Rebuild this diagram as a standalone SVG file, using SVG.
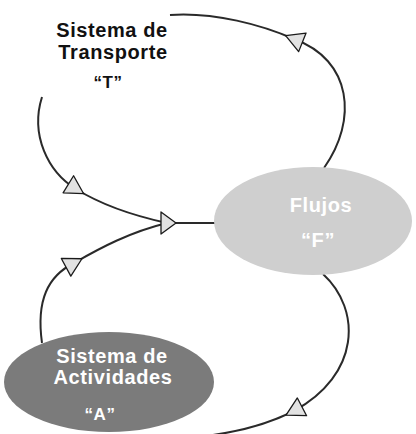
<svg xmlns="http://www.w3.org/2000/svg" width="416" height="434" viewBox="0 0 416 434">
<style>
.bg{fill:#ffffff}
.lbl{font-family:"Liberation Sans",Arial,sans-serif;font-weight:bold;font-size:20px;letter-spacing:0.6px;text-anchor:middle}
.dark{fill:#111111}
.light{fill:#ffffff}
.conn{fill:none;stroke:#2a2a2a;stroke-width:2}
</style>
<defs>
<marker id="tri" markerUnits="userSpaceOnUse" viewBox="-11 -12 22 24" refX="0" refY="0" markerWidth="22" markerHeight="24" orient="auto">
<path d="M9,0 L-9,-10 L-9,10 Z" fill="#e2e2e2" stroke="#1a1a1a" stroke-width="1.3" stroke-linejoin="round"/>
</marker>
<marker id="triBig" markerUnits="userSpaceOnUse" viewBox="-2 -13 18 26" refX="0" refY="0" markerWidth="18" markerHeight="26" orient="auto">
<path d="M14,0 L-1,-11 L-1,11 Z" fill="#e2e2e2" stroke="#1a1a1a" stroke-width="1.3" stroke-linejoin="round"/>
</marker>
</defs>
<rect class="bg" x="0" y="0" width="416" height="434"/>
<g id="connectors">
<path class="conn" d="M324,168 C358,120 352,60 294,39 C262,25 215,12 170,15" marker-mid="url(#tri)"/>
<path class="conn" d="M42,97 C30,135 48,172 76,189 C100,204 135,216 167,223" marker-mid="url(#tri)"/>
<path class="conn" d="M42,343 C36,300 48,276 74,263 C100,248 130,232 167,223" marker-mid="url(#tri)"/>
<path class="conn" d="M162,223 L216,223" marker-start="url(#triBig)"/>
<path class="conn" d="M323,274 C362,310 360,375 294,411 C268,424 240,432 205,436" marker-mid="url(#tri)"/>
</g>
<g id="transporte">
<text class="lbl dark" x="112" y="37">Sistema de</text>
<text class="lbl dark" x="113" y="59">Transporte</text>
<text class="lbl dark" x="108" y="88" style="font-size:17px">“T”</text>
</g>
<g id="flujos">
<ellipse cx="313" cy="221" rx="99" ry="54" fill="#cfcfcf"/>
<text class="lbl light" x="321" y="212">Flujos</text>
<text class="lbl light" x="318" y="247">“F”</text>
</g>
<g id="actividades">
<ellipse cx="109" cy="382" rx="105" ry="50" fill="#7b7b7b"/>
<text class="lbl light" x="112" y="363">Sistema de</text>
<text class="lbl light" x="113" y="384">Actividades</text>
<text class="lbl light" x="100" y="420" style="font-size:17px">“A”</text>
</g>
</svg>
